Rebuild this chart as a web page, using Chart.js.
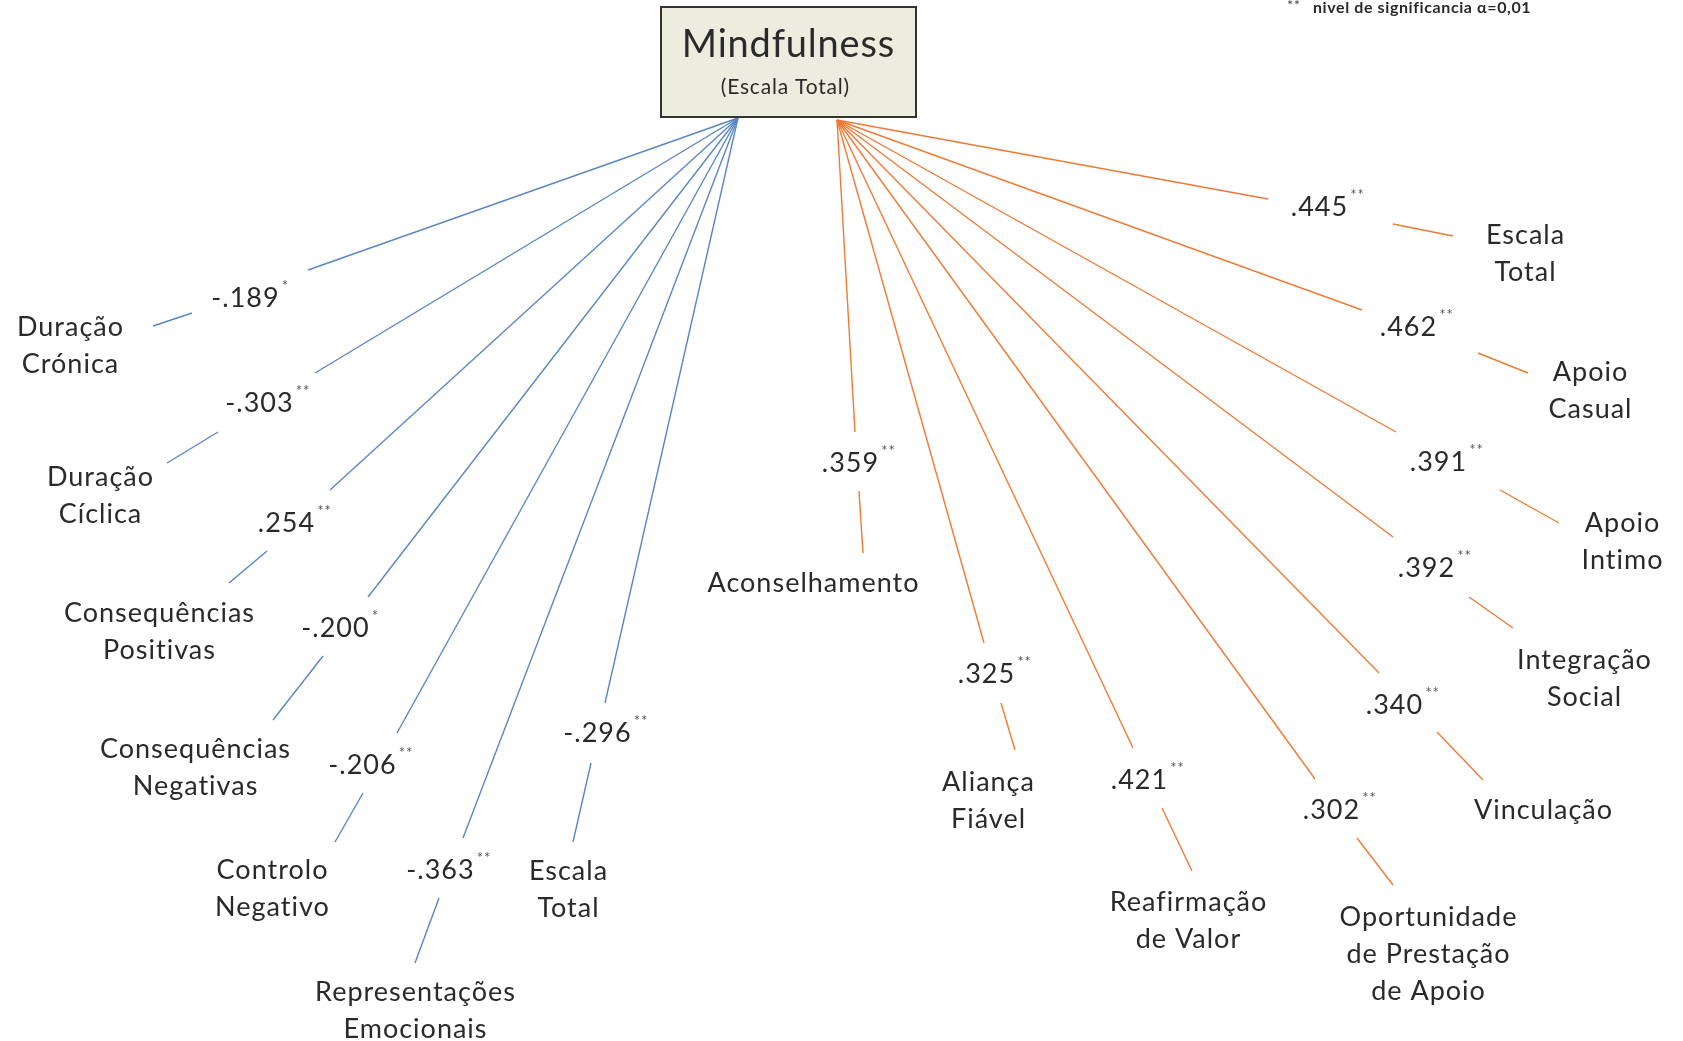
<!DOCTYPE html>
<html>
<head>
<meta charset="utf-8">
<script src="https://cdn.jsdelivr.net/npm/chart.js@4.4.0/dist/chart.umd.min.js"></script>
<style>
  body { margin: 0; background: #fff; }
  canvas { display: block; }
</style>
</head>
<body>
<canvas id="myChart" width="1683" height="1041"></canvas>
<script>
var ctx = document.getElementById('myChart').getContext('2d');

// Centro (caixa Mindfulness)
var boxTitle = 'Mindfulness';
var boxSubtitle = '(Escala Total)';
var legendText = 'nivel de significancia α=0,01';

var hubBlue = [738, 118];
var hubOrange = [837, 120];

// Correlações negativas / doença (azul)
var blueLabels = [['Duração', 'Crónica'], ['Duração', 'Cíclica'], ['Consequências', 'Positivas'],
    ['Consequências', 'Negativas'], ['Controlo', 'Negativo'], ['Representações', 'Emocionais'], ['Escala', 'Total']];
var blueValues = ['-.189', '-.303', '.254', '-.200', '-.206', '-.363', '-.296'];
var blueSig = ['*', '**', '**', '*', '**', '**', '**'];
var blueBreakStart = [[308, 270], [315, 373], [330, 490], [368, 597], [397, 733], [463, 838], [605, 703]];
var blueBreakEnd = [[192, 313], [218, 432], [267, 551], [323, 656], [363, 793], [439, 898], [591, 763]];
var blueEnd = [[153, 326], [167, 463], [229, 583], [273, 720], [335, 842], [415, 963], [573, 842]];
var blueValuePos = [[245, 298], [259, 403], [286, 523], [335, 628], [362, 765], [440, 870], [597, 733]];
var blueLabelPos = [[70, 327], [100, 477], [159, 613], [195, 749], [272, 870], [415, 992], [568, 871]];

// Apoio social (laranja)
var orangeLabels = [['Escala', 'Total'], ['Apoio', 'Casual'], ['Apoio', 'Intimo'], ['Integração', 'Social'],
    ['Vinculação'], ['Oportunidade', 'de Prestação', 'de Apoio'], ['Reafirmação', 'de Valor'],
    ['Aliança', 'Fiável'], ['Aconselhamento']];
var orangeValues = ['.445', '.462', '.391', '.392', '.340', '.302', '.421', '.325', '.359'];
var orangeSig = ['**', '**', '**', '**', '**', '**', '**', '**', '**'];
var orangeBreakStart = [[1268, 199], [1362, 310], [1396, 432], [1393, 537], [1379, 673], [1315, 779], [1133, 748], [984, 643], [855, 432]];
var orangeBreakEnd = [[1393, 224], [1478, 353], [1500, 490], [1469, 597], [1437, 732], [1357, 838], [1162, 808], [1001, 703], [859, 491]];
var orangeEnd = [[1453, 236], [1528, 373], [1559, 523], [1513, 628], [1483, 780], [1393, 885], [1192, 871], [1015, 750], [863, 553]];
var orangeValuePos = [[1319, 207], [1408, 327], [1438, 462], [1426, 568], [1394, 705], [1331, 810], [1139, 780], [986, 674], [850, 463]];
var orangeLabelPos = [[1525, 235], [1590, 372], [1622, 523], [1584, 660], [1543, 810], [1428, 917], [1188, 902], [988, 782], [813, 583]];

var boxCorners = [[661, 7], [916, 117]];

var FONT = 'Lato, "Open Sans", sans-serif';
var TEXT_COLOR = '#2a2a2a';

function pt(p) { return { x: p[0], y: p[1] }; }

// cria os segmentos (hub -> quebra, quebra -> nó)
function segments(hub, starts, ends, finals, color) {
    var ds = [];
    for (var i = 0; i < starts.length; i++) {
        ds.push({ data: [pt(hub), pt(starts[i])], borderColor: color, borderWidth: 1.4, showLine: true, pointRadius: 0 });
        ds.push({ data: [pt(ends[i]), pt(finals[i])], borderColor: color, borderWidth: 1.4, showLine: true, pointRadius: 0 });
    }
    return ds;
}

var datasets = segments(hubBlue, blueBreakStart, blueBreakEnd, blueEnd, '#5a86c4')
    .concat(segments(hubOrange, orangeBreakStart, orangeBreakEnd, orangeEnd, '#ee7a36'));

// texto centrado com espaçamento entre letras
function centered(c, txt, x, y, spacing) {
    c.letterSpacing = spacing + 'px';
    var w = c.measureText(txt).width - spacing;
    c.textAlign = 'left';
    c.fillText(txt, x - w / 2, y);
    return w;
}

// plugin para desenhar textos e a caixa
var diagramText = {
    id: 'diagramText',
    afterDatasetsDraw: function (chart) {
        var c = chart.ctx;
        var sx = chart.scales.x, sy = chart.scales.y;
        function X(v) { return sx.getPixelForValue(v); }
        function Y(v) { return sy.getPixelForValue(v); }
        c.save();
        c.textBaseline = 'middle';

        // caixa
        var x0 = X(boxCorners[0][0]), y0 = Y(boxCorners[0][1]);
        var x1 = X(boxCorners[1][0]), y1 = Y(boxCorners[1][1]);
        c.fillStyle = '#ececdf';
        c.fillRect(x0, y0, x1 - x0, y1 - y0);
        c.strokeStyle = '#333';
        c.lineWidth = 2;
        c.strokeRect(x0, y0, x1 - x0, y1 - y0);
        c.fillStyle = TEXT_COLOR;
        c.font = '38px ' + FONT;
        centered(c, boxTitle, X(788), Y(45), 0.8);
        c.font = '21px ' + FONT;
        centered(c, boxSubtitle, X(785), Y(87), 0.8);

        function drawLabels(labels, pos) {
            c.font = '27px ' + FONT;
            c.fillStyle = TEXT_COLOR;
            for (var i = 0; i < labels.length; i++) {
                for (var j = 0; j < labels[i].length; j++) {
                    centered(c, labels[i][j], X(pos[i][0]), Y(pos[i][1] + j * 37), 1);
                }
            }
        }
        function drawValues(values, sig, pos) {
            for (var i = 0; i < values.length; i++) {
                c.font = '27px ' + FONT;
                c.fillStyle = TEXT_COLOR;
                var w = centered(c, values[i], X(pos[i][0]), Y(pos[i][1]), 1);
                c.font = '15px ' + FONT;
                c.fillStyle = '#555';
                c.letterSpacing = '1px';
                c.fillText(sig[i], X(pos[i][0]) + w / 2 + 3, Y(pos[i][1]) - 12);
            }
        }
        drawLabels(blueLabels, blueLabelPos);
        drawLabels(orangeLabels, orangeLabelPos);
        drawValues(blueValues, blueSig, blueValuePos);
        drawValues(orangeValues, orangeSig, orangeValuePos);

        // nota de significância
        c.textAlign = 'left';
        c.fillStyle = '#444';
        c.letterSpacing = '1px';
        c.font = '14px ' + FONT;
        c.fillText('**', X(1287), Y(5));
        c.fillStyle = TEXT_COLOR;
        c.letterSpacing = '0.6px';
        c.font = 'bold 16px ' + FONT;
        c.fillText(legendText, X(1313), Y(8));
        c.restore();
    }
};

var chart = new Chart(ctx, {
    type: 'scatter',
    data: { datasets: datasets },
    options: {
        responsive: false,
        animation: false,
        layout: { padding: 0 },
        plugins: { legend: { display: false }, tooltip: { enabled: false } },
        scales: {
            x: { type: 'linear', min: 0, max: 1683, display: false },
            y: { type: 'linear', min: 0, max: 1041, reverse: true, display: false }
        }
    },
    plugins: [diagramText]
});
</script>
</body>
</html>
